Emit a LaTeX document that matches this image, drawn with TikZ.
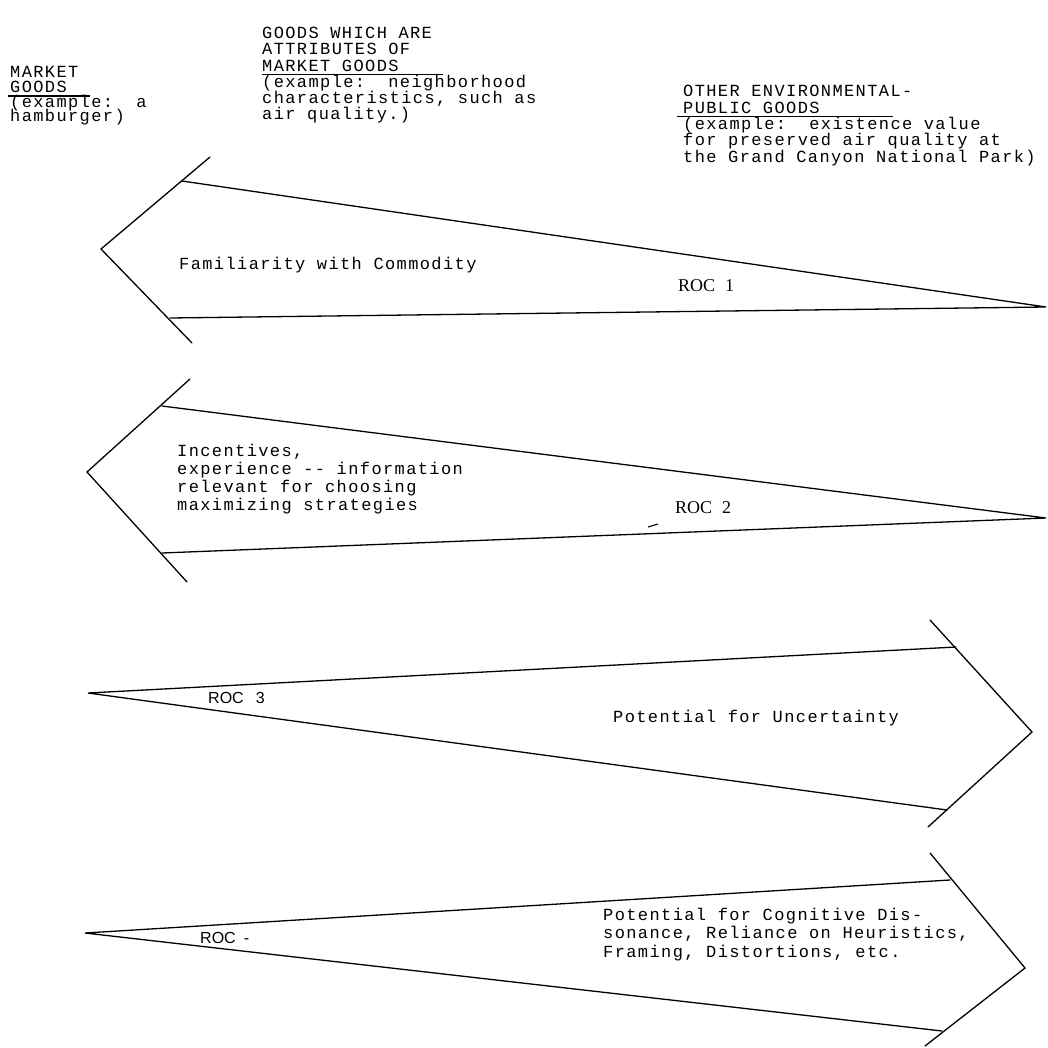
\documentclass[tikz,border=0pt]{standalone}
\usepackage{fontspec}
\setmonofont{Liberation Mono}[LetterSpace=8.2]
\newfontfamily\rocserif{Liberation Serif}
\newfontfamily\rocsans{Liberation Sans}
\begin{document}
\begin{tikzpicture}[x=1pt,y=-1pt,
  edge/.style={line width=1.3pt, line join=miter, line cap=round},
  uline/.style={line width=1.1pt},
  tw/.style={font=\ttfamily\fontsize{17}{16}\selectfont, anchor=base west, inner sep=0pt},
  twc/.style={font=\ttfamily\fontsize{17}{17.7}\selectfont, anchor=base west, inner sep=0pt, align=left},
  twd/.style={font=\ttfamily\fontsize{17}{18.5}\selectfont, anchor=base west, inner sep=0pt, align=left},
  rocs/.style={font=\rocserif\fontsize{18}{18}\selectfont, anchor=base west, inner sep=0pt},
  rocl/.style={font=\rocsans\fontsize{16}{16}\selectfont, anchor=base west, inner sep=0pt}]
\useasboundingbox (0,0) rectangle (1048,1048);

% ---------- header, column 1 ----------
\node[tw] (c1a) at (10,78)    {MARKET};
\node[tw] (c1b) at (10,92.5)  {GOODS};
\node[tw] (c1c) at (10,107.5) {(example:~~a};
\node[tw] (c1d) at (10,122)   {hamburger)};
\draw[uline] ([xshift=-2pt,yshift=-3.5pt]c1b.base west) -- ++(82,0);

% ---------- header, column 2 ----------
\node[tw] (c2a) at (262,38.5)  {GOODS WHICH ARE};
\node[tw] (c2b) at (262,54.8)  {ATTRIBUTES OF};
\node[tw] (c2c) at (262,71.1)  {MARKET GOODS};
\node[tw] (c2d) at (262,87.4)  {(example:~~neighborhood};
\node[tw] (c2e) at (262,103.7) {characteristics, such as};
\node[tw] (c2f) at (262,120)   {air quality.)};
\draw[uline] ([yshift=-3.5pt]c2c.base west) -- ++(181,0);

% ---------- header, column 3 ----------
\node[tw] (c3a) at (683,97)    {OTHER ENVIRONMENTAL-};
\node[tw] (c3b) at (683,113.3) {PUBLIC GOODS};
\node[tw] (c3c) at (683,129.6) {(example:~~existence value};
\node[tw] (c3d) at (683,145.9) {for preserved air quality at};
\node[tw] (c3e) at (683,162.2) {the Grand Canyon National Park)};
\draw[uline] ([xshift=-6pt,yshift=-3.5pt]c3b.base west) -- ++(216,0);

% ---------- arrow 1 (pointing left) ----------
\coordinate (h1t) at (210,157);
\coordinate (j1u) at (182,181);
\coordinate (t1) at (101,249);
\coordinate (j1l) at (170,318);
\coordinate (h1b) at (192,343);
\coordinate (r1) at (1046,307);
\draw[edge] (h1t) -- (t1) -- (h1b);
\draw[edge] (j1u) -- (r1) -- (j1l);
\node[tw] (f1) at (179,270) {Familiarity with Commodity};
\node[rocs] (roc1) at (678,291) {ROC\hspace{10pt}1};

% ---------- arrow 2 (pointing left) ----------
\coordinate (h2t) at (190,379);
\coordinate (j2u) at (162,406);
\coordinate (t2) at (87,472);
\coordinate (j2l) at (162,553);
\coordinate (h2b) at (187,582);
\coordinate (r2) at (1046,518);
\draw[edge] (h2t) -- (t2) -- (h2b);
\draw[edge] (j2u) -- (r2) -- (j2l);
\node[twc] (f2) at (177,510) {Incentives,\\experience -- information\\relevant for choosing\\maximizing strategies};
\node[rocs] (roc2) at (675,513) {ROC\hspace{10pt}2};
\coordinate (d1) at (648,527);
\coordinate (d2) at (658,524);
\draw[line width=1.1pt] (d1) -- (d2);

% ---------- arrow 3 (pointing right) ----------
\coordinate (t3) at (88,693);
\coordinate (j3u) at (956,647);
\coordinate (h3t) at (930,620);
\coordinate (r3) at (1032,732);
\coordinate (j3l) at (947,810);
\coordinate (h3b) at (928,827);
\draw[edge] (h3t) -- (r3) -- (h3b);
\draw[edge] (j3u) -- (t3) -- (j3l);
\node[rocl] (roc3) at (208,703) {ROC\hspace{12pt}3};
\node[tw] (f3) at (613,722) {Potential for Uncertainty};

% ---------- arrow 4 (pointing right) ----------
\coordinate (t4) at (85,933);
\coordinate (j4u) at (950,880);
\coordinate (h4t) at (930,853);
\coordinate (r4) at (1025,968);
\coordinate (j4l) at (942,1031);
\coordinate (h4b) at (925,1046);
\draw[edge] (h4t) -- (r4) -- (h4b);
\draw[edge] (j4u) -- (t4) -- (j4l);
\node[rocl] (roc4) at (200,943) {ROC\hspace{8pt}-};
\node[twd] (f4) at (603,957) {Potential for Cognitive Dis-\\sonance, Reliance on Heuristics,\\Framing, Distortions, etc.};
\end{tikzpicture}
\end{document}
